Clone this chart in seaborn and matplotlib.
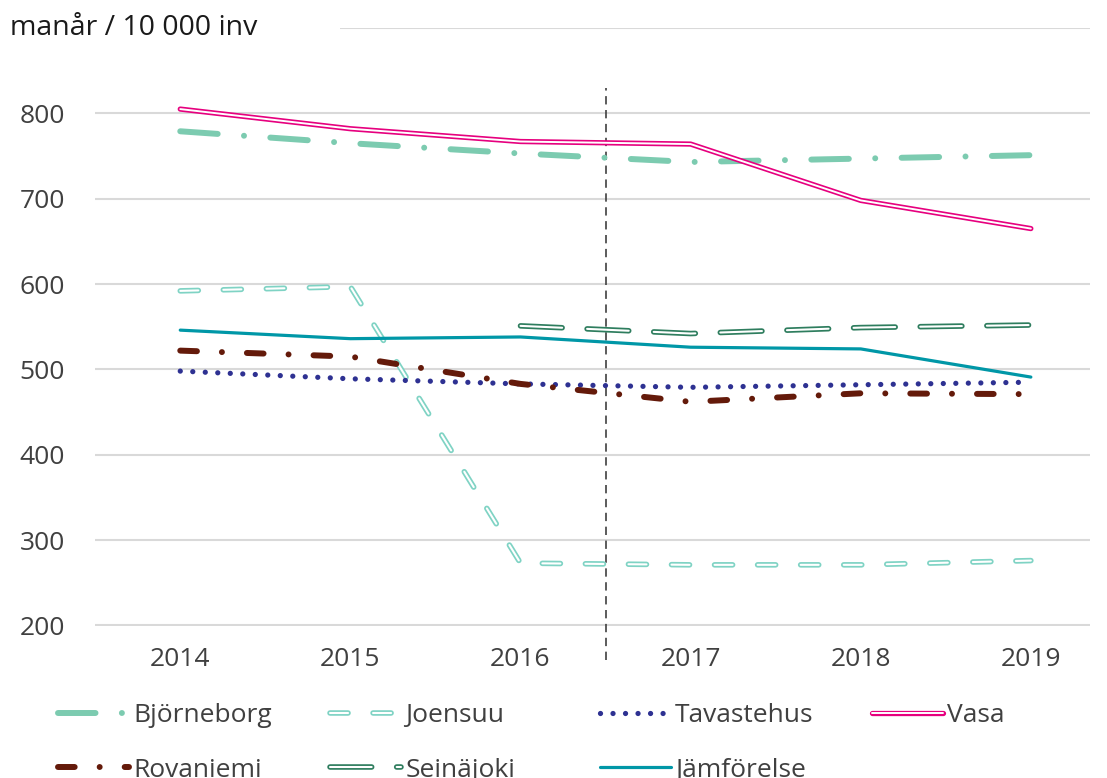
#!/usr/bin/env python3
"""Man-years per 10 000 inhabitants, line chart with double-stroke series"""

import matplotlib
matplotlib.use('Agg')
import matplotlib.pyplot as plt
import matplotlib.patheffects as pe
from matplotlib.patches import Rectangle
import seaborn as sns
import pandas as pd

years = [2014, 2015, 2016, 2017, 2018, 2019]
bjorneborg = [779, 765, 753, 743, 747, 751]
joensuu = [592, 597, 273, 271, 271, 276]
tavastehus = [498, 489, 483, 479, 482, 485]
vasa = [805, 782, 767, 764, 698, 665]
rovaniemi = [522, 515, 483, 462, 472, 471]
seinajoki = [None, None, 551, 542, 549, 552]
jamforelse = [546, 536, 538, 526, 524, 491]

y_ticks = [200, 300, 400, 500, 600, 700, 800, 900]
y_ticklabels = ['200', '300', '400', '500', '600', '700', '800', '']
unit_label = 'manår / 10 000 inv'

TEXT = '#404040'
GRID = '#d9d9d9'

sns.set_style('white')
plt.rcParams['font.family'] = ['Open Sans', 'DejaVu Sans']
plt.rcParams['lines.scale_dashes'] = False


def double(color, outer=4.0):
    return [pe.Stroke(linewidth=outer, foreground=color), pe.Normal()]


# name, values, style kwargs
series = [
    ('Björneborg', bjorneborg, dict(color='#7ccbb0', lw=4.3, dash_capstyle='round',
                                    linestyle=(0, (27, 19, 0.01, 19)))),
    ('Joensuu', joensuu, dict(color='white', lw=1.5, dash_capstyle='round',
                              linestyle=(0, (13, 18)), path_effects=double('#7fd3c4'))),
    ('Tavastehus', tavastehus, dict(color='#2e3192', lw=3.8, dash_capstyle='round',
                                    linestyle=(0, (0.01, 9)))),
    ('Vasa', vasa, dict(color='white', lw=1.4, path_effects=double('#e6007e', 3.8))),
    ('Rovaniemi', rovaniemi, dict(color='#641a0a', lw=4.3, dash_capstyle='round',
                                  linestyle=(0, (12, 18, 0.01, 18)))),
    ('Seinäjoki', seinajoki, dict(color='white', lw=1.5, dash_capstyle='round',
                                  linestyle=(0, (30, 18)), path_effects=double('#2e7d5e'))),
    ('Jämförelse', jamforelse, dict(color='#0097a7', lw=2.3)),
]

fig = plt.figure(figsize=(11.07, 7.78), dpi=100)
ax = fig.add_axes([0.086, 0.195, 0.899, 0.769])

handles = {}
for name, vals, kw in series:
    df = pd.DataFrame({'year': years, 'value': vals}).dropna()
    sns.lineplot(data=df, x='year', y='value', ax=ax, legend=False, **kw)
    handles[name] = ax.lines[-1]

ax.set_xlim(2013.5, 2019.35)
ax.set_ylim(199, 900)
ax.set_yticks(y_ticks)
ax.set_yticklabels(y_ticklabels)
ax.set_xticks(years)
ax.set_xticklabels([str(y) for y in years])
ax.set_xlabel('')
ax.set_ylabel('')
ax.yaxis.grid(True, color=GRID, lw=1.5)
ax.set_axisbelow(True)
for s in ax.spines.values():
    s.set_visible(False)
ax.tick_params(axis='both', length=0, labelsize=19, colors=TEXT)
ax.tick_params(axis='y', pad=22)
ax.tick_params(axis='x', pad=15)

# dashed divider between 2016 and 2017
ax.axvline(2016.5, ymin=-0.057, ymax=0.9, color=TEXT, lw=1.2,
           linestyle=(0, (6, 4)), clip_on=False, zorder=1)

# unit label covering the top grid line
fig.add_artist(Rectangle((0, 0.947), 340 / 1107, 0.035, transform=fig.transFigure,
                         facecolor='white', edgecolor='none', zorder=2))
fig.text(10 / 1107, 1 - 28 / 778, unit_label, fontsize=20.5, color='#1a1a1a',
         ha='left', va='center', zorder=3)

# legend: four columns at fixed positions
columns = [['Björneborg', 'Rovaniemi'], ['Joensuu', 'Seinäjoki'],
           ['Tavastehus', 'Jämförelse'], ['Vasa']]
col_x = [58, 330, 600, 872]
for names, x in zip(columns, col_x):
    leg = fig.legend([handles[n] for n in names], names, loc='upper left',
                     bbox_to_anchor=(x / 1107, 1 - 703 / 778), frameon=False,
                     fontsize=19, handlelength=2.7, handletextpad=0.15,
                     labelspacing=1.12, borderpad=0, borderaxespad=0)
    for t in leg.get_texts():
        t.set_color(TEXT)

fig.savefig('out.png', dpi=100)
